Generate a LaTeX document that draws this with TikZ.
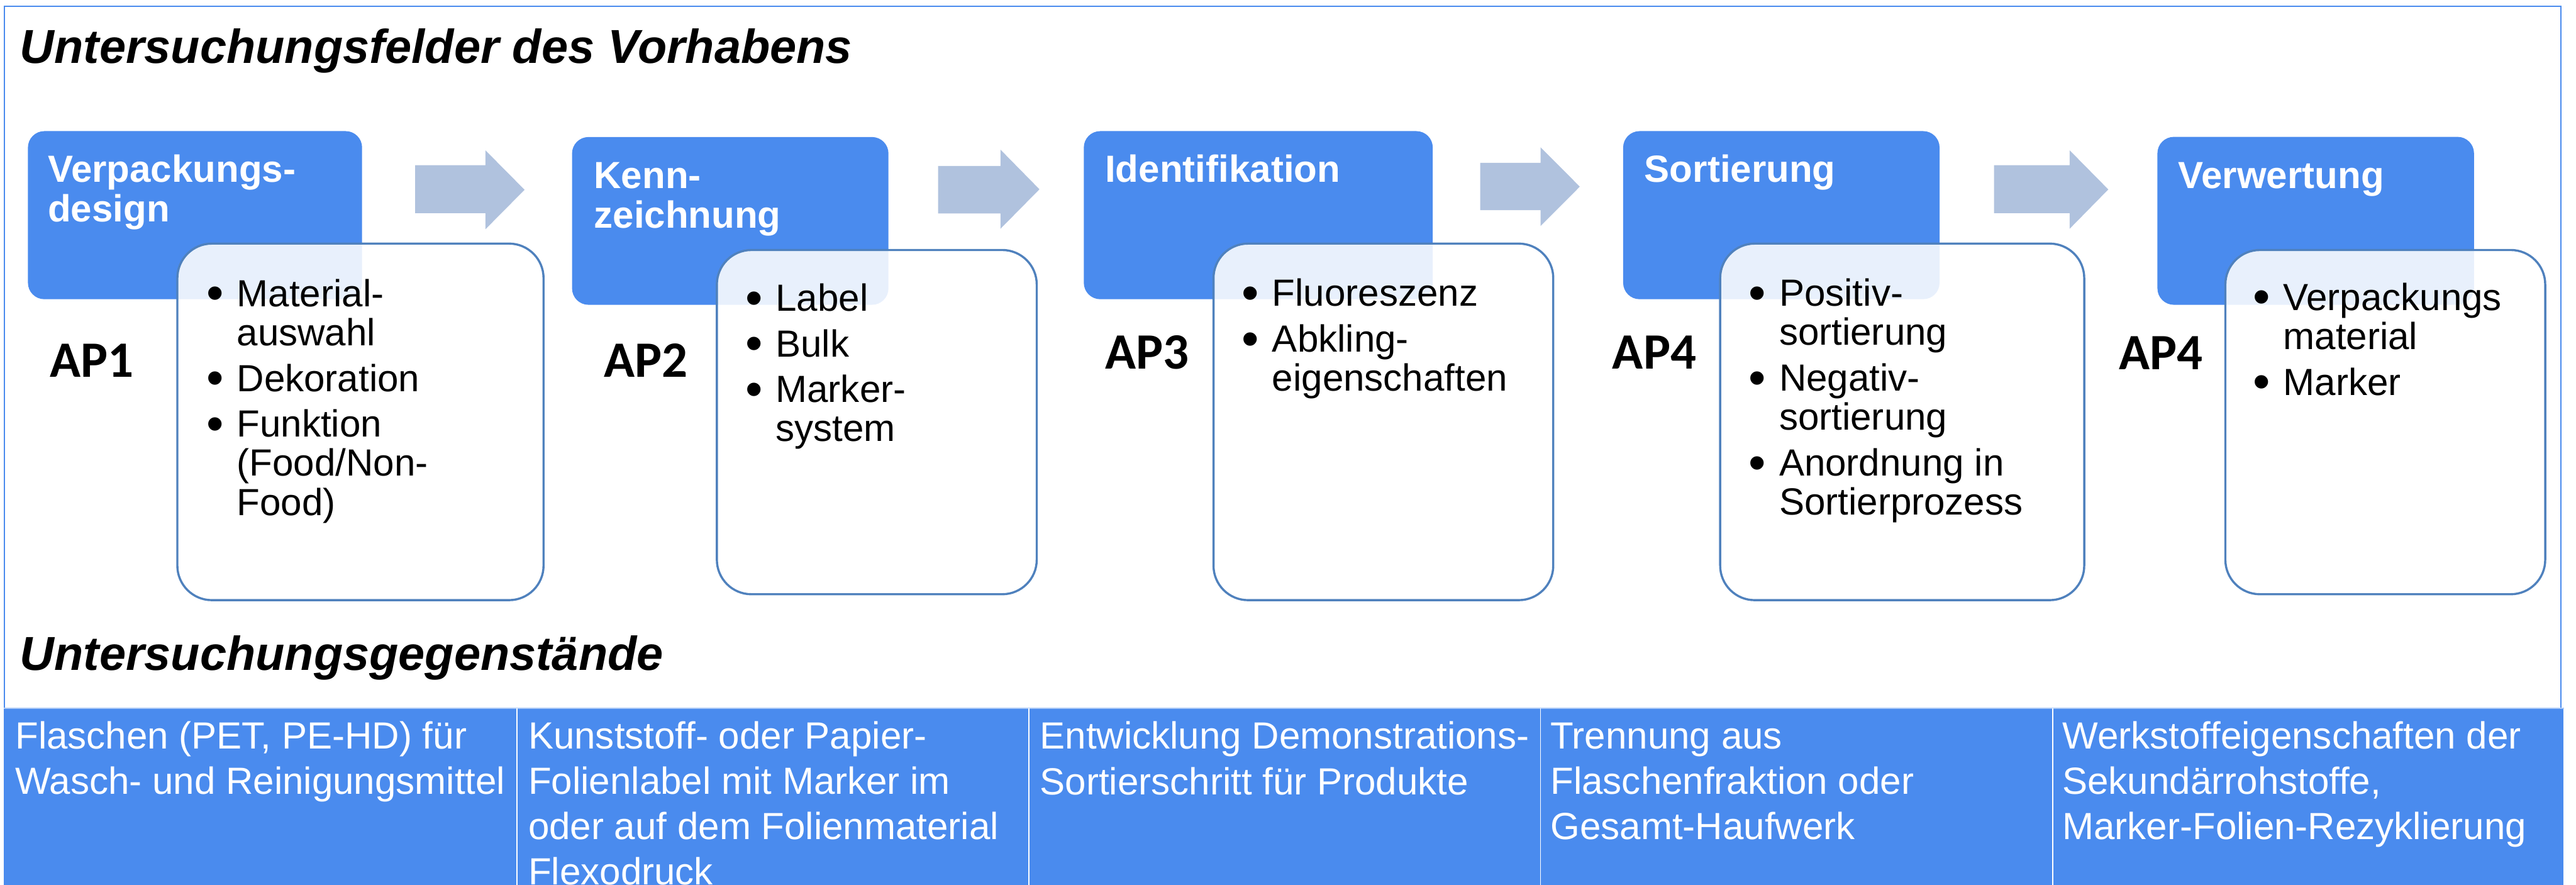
\documentclass[tikz,border=0pt]{standalone}
\usepackage{fontspec}
\setmainfont{Liberation Sans}
\newfontfamily\calfont{Carlito}
\definecolor{hblue}{HTML}{4A8BEE}
\definecolor{arrowc}{HTML}{B0C2DE}
\definecolor{bordc}{HTML}{4F81BD}
\newcommand\lns[1]{\begin{tabular}[t]{@{}l@{}}#1\end{tabular}}
\newcommand\blts[1]{\begin{tabular}[t]{@{}p{17pt}@{}l@{}}#1\end{tabular}}
\newcommand\bul{\hspace*{-1.5pt}\raisebox{-2.2pt}{\fontsize{30}{23.8}\selectfont\textbullet}}
\tikzset{
  hdrbox/.style={fill=hblue, draw=none, rounded corners=10pt, inner sep=0pt, anchor=north west},
  itembox/.style={fill=white, fill opacity=0.88, draw=bordc, draw opacity=1, line width=1.3pt, rounded corners=21pt, inner sep=0pt, anchor=north west},
  hdrtext/.style={anchor=base west, inner sep=0pt, text=white, font=\fontsize{23}{24}\selectfont\bfseries},
  itemtext/.style={anchor=base west, inner sep=0pt, text=black, font=\fontsize{23}{23.8}\selectfont},
  aptext/.style={anchor=base west, inner sep=0pt, text=black, font=\calfont\fontsize{31}{36}\selectfont\bfseries},
  titletext/.style={anchor=base west, inner sep=0pt, text=black, font=\fontsize{29}{34}\selectfont\bfseries\itshape},
  cellbox/.style={fill=hblue, draw=none, inner sep=0pt, anchor=north west, minimum height=114},
  celltext/.style={anchor=base west, inner sep=0pt, text=white, font=\fontsize{23}{27.6}\selectfont},
  cellsep/.style={draw=white, line width=0.7pt},
  blockarrow/.style={fill=arrowc, draw=none}
}
\begin{document}
\begin{tikzpicture}[x=1pt, y=-1pt]
\useasboundingbox (0,0) rectangle (1568,538.46);
\clip (0,0) rectangle (1568,538.46);
\fill[white] (0,0) rectangle (1568,538.46);

% outer frame
\draw[hblue, line width=0.8pt] (2.7,4) rectangle (1558.9,431);

% titles
\node[titletext] (t1) at (12,38.3) {Untersuchungsfelder des Vorhabens};
\node[titletext] (t2) at (12,408) {Untersuchungsgegenstände};

% header boxes
\node[hdrbox, minimum width=203.4, minimum height=102.3] (h1) at (16.8,79.6) {};
\node[hdrbox, minimum width=192.6, minimum height=102.1] (h2) at (348,83.2) {};
\node[hdrbox, minimum width=212.4, minimum height=102.3] (h3) at (659.5,79.6) {};
\node[hdrbox, minimum width=192.6, minimum height=102.3] (h4) at (987.8,79.6) {};
\node[hdrbox, minimum width=192.7, minimum height=102.2] (h5) at (1313,83.1) {};

% item boxes
\node[itembox, minimum width=222.9, minimum height=217] (b1) at (107.3,147.6) {};
\node[itembox, minimum width=194.7, minimum height=209.5] (b2) at (435.7,151.5) {};
\node[itembox, minimum width=206.8, minimum height=217] (b3) at (738,147.6) {};
\node[itembox, minimum width=221.6, minimum height=217] (b4) at (1046.4,147.6) {};
\node[itembox, minimum width=194.7, minimum height=209.5] (b5) at (1353.9,151.5) {};

% block arrows
\fill[blockarrow] (252.7,100.5) -- (295.5,100.5) -- (295.5,91.5) -- (319.3,115.5) -- (295.5,139.5) -- (295.5,129.7) -- (252.7,129.7) -- cycle;
\fill[blockarrow] (571,101) -- (609,101) -- (609,91.1) -- (632.7,115.2) -- (609,139.2) -- (609,129.9) -- (571,129.9) -- cycle;
\fill[blockarrow] (901,99.1) -- (937.7,99.1) -- (937.7,89.6) -- (961.6,113.6) -- (937.7,137.6) -- (937.7,127.9) -- (901,127.9) -- cycle;
\fill[blockarrow] (1213.7,100.5) -- (1259.8,100.5) -- (1259.8,91.5) -- (1283.3,115.3) -- (1259.8,139.2) -- (1259.8,129.7) -- (1213.7,129.7) -- cycle;

% header texts
\node[hdrtext] (ht1) at (29,110.8) {\lns{Verpackungs-\\design}};
\node[hdrtext] (ht2) at (361.4,114.6) {\lns{Kenn-\\zeichnung}};
\node[hdrtext] (ht3) at (672.5,110.8) {Identifikation};
\node[hdrtext] (ht4) at (1000.8,110.8) {Sortierung};
\node[hdrtext] (ht5) at (1325.7,114.6) {Verwertung};

% AP labels
\node[aptext] (ap1) at (30.3,229.6) {AP1};
\node[aptext] (ap2) at (367.3,229.6) {AP2};
\node[aptext] (ap3) at (672.5,224.6) {AP3};
\node[aptext] (ap4) at (981.3,224.6) {AP4};
\node[aptext] (ap5) at (1289.6,225) {AP4};

% bullet lists
\node[itemtext] (bl1) at (127,186.5) {\blts{\bul & Material-\\ & auswahl\\[4pt] \bul & Dekoration\\[4pt] \bul & Funktion\\ & (Food/Non-\\ & Food)}};
\node[itemtext] (bl2) at (455,189.3) {\blts{\bul & Label\\[4pt] \bul & Bulk\\[4pt] \bul & Marker-\\ & system}};
\node[itemtext] (bl3) at (757.2,186.3) {\blts{\bul & Fluoreszenz\\[4pt] \bul & Abkling-\\ & eigenschaften}};
\node[itemtext] (bl4) at (1065.8,186.3) {\blts{\bul & Positiv-\\ & sortierung\\[4pt] \bul & Negativ-\\ & sortierung\\[4pt] \bul & Anordnung in\\ & Sortierprozess}};
\node[itemtext] (bl5) at (1372.6,188.8) {\blts{\bul & Verpackungs\\ & material\\[4pt] \bul & Marker}};

% bottom table
\node[cellbox, minimum width=312.1] (c1) at (2.2,431) {};
\node[cellbox, minimum width=311.7] (c2) at (314.3,431) {};
\node[cellbox, minimum width=311.3] (c3) at (626,431) {};
\node[cellbox, minimum width=311.7] (c4) at (937.3,431) {};
\node[cellbox, minimum width=311.2] (c5) at (1249,431) {};
\draw[draw=white!55!hblue, line width=0.6pt] (c1.north west) -- (c5.north east);
\draw[cellsep] (c1.north east) -- (c1.south east);
\draw[cellsep] (c2.north east) -- (c2.south east);
\draw[cellsep] (c3.north east) -- (c3.south east);
\draw[cellsep] (c4.north east) -- (c4.south east);

\node[celltext] (ct1) at (9.1,455.7) {\lns{Flaschen (PET, PE-HD) für\\Wasch- und Reinigungsmittel}};
\node[celltext] (ct2) at (321.4,455.7) {\lns{Kunststoff- oder Papier-\\Folienlabel mit Marker im\\oder auf dem Folienmaterial\\Flexodruck}};
\node[celltext] (ct3) at (632.8,455.9) {\lns{Entwicklung Demonstrations-\\Sortierschritt für Produkte}};
\node[celltext] (ct4) at (943.6,455.7) {\lns{Trennung aus\\Flaschenfraktion oder\\Gesamt-Haufwerk}};
\node[celltext] (ct5) at (1255.2,455.7) {\lns{Werkstoffeigenschaften der\\Sekundärrohstoffe,\\Marker-Folien-Rezyklierung}};
\end{tikzpicture}
\end{document}
